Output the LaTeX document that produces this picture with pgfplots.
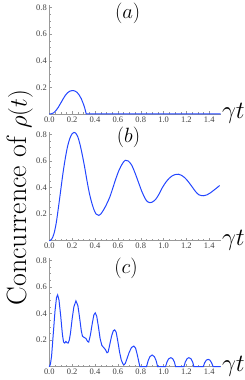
\documentclass[border=0pt]{standalone}
\usepackage{pgfplots}
\pgfplotsset{compat=1.18}
\usepackage{fontspec}
\newfontfamily\tickfont{Liberation Serif}
\definecolor{curve}{RGB}{35,70,255}
\pgfplotsset{
  panel/.style={
    scale only axis, width=171.4bp, height=109bp,
    xmin=0, xmax=1.5, ymin=0, ymax=0.82,
    axis lines=left, axis line style={-, black!40, line width=0.5bp},
    clip=false,
    xtick={0,0.2,...,1.41}, ytick={0.2,0.4,0.6,0.8},
    minor tick num=3,
    tick align=inside,
    major tick length=3bp, minor tick length=1.5bp,
    every tick/.style={black!40, line width=0.4bp},
    /pgf/number format/assume math mode=true,
    /pgf/number format/fixed,
    /pgf/number format/fixed zerofill,
    /pgf/number format/precision=1,
    tick label style={font=\tickfont\fontsize{8.5}{9}\selectfont, text=black!75},
    xticklabel style={yshift=1bp},
    yticklabel style={xshift=1bp},
  }
}
\begin{document}
\begin{tikzpicture}
\useasboundingbox (0,0) rectangle (245bp,380bp);
% (a)
\begin{axis}[panel, at={(49.3bp,266bp)}, anchor=south west]
\addplot[curve, line width=1bp] coordinates {
(0,0) (0.02,0.002) (0.04,0.01) (0.06,0.028) (0.08,0.052) (0.10,0.082) (0.12,0.112) (0.14,0.140) (0.16,0.160) (0.18,0.172) (0.20,0.176) (0.21,0.176) (0.22,0.174) (0.24,0.165) (0.26,0.145) (0.28,0.115) (0.30,0.072) (0.31,0.045) (0.32,0.012) (0.323,0) (0.4,0) (0.6,0) (0.8,0) (1.0,0) (1.2,0) (1.5,0)
};
\node at (axis cs:0.686,0.754) {\fontsize{21}{21}\selectfont $(a)$};
\node[anchor=base west, inner sep=0pt] at (axis cs:1.51,-0.035) {\fontsize{26}{26}\selectfont $\gamma t$};
\end{axis}
% (b)
\begin{axis}[panel, at={(49.3bp,139.3bp)}, anchor=south west]
\addplot[curve, line width=1bp, smooth, tension=0.5] coordinates {
(0,0) (0.02,0.01) (0.04,0.05) (0.06,0.13) (0.08,0.25) (0.10,0.38) (0.12,0.51) (0.14,0.62) (0.16,0.71) (0.18,0.77) (0.20,0.805) (0.216,0.815) (0.23,0.81) (0.25,0.78) (0.27,0.72) (0.29,0.64) (0.31,0.55) (0.33,0.45) (0.35,0.36) (0.37,0.29) (0.39,0.235) (0.41,0.20) (0.433,0.19) (0.45,0.20) (0.47,0.225) (0.49,0.255) (0.51,0.29) (0.53,0.33) (0.55,0.38) (0.58,0.46) (0.61,0.53) (0.64,0.58) (0.665,0.605) (0.69,0.60) (0.72,0.57) (0.75,0.51) (0.78,0.44) (0.81,0.37) (0.84,0.315) (0.86,0.293) (0.88,0.286) (0.90,0.29) (0.93,0.31) (0.96,0.35) (0.99,0.40) (1.02,0.44) (1.05,0.47) (1.08,0.49) (1.11,0.499) (1.13,0.5) (1.16,0.49) (1.19,0.47) (1.22,0.44) (1.25,0.405) (1.28,0.37) (1.31,0.345) (1.35,0.338) (1.38,0.345) (1.41,0.36) (1.44,0.38) (1.47,0.40) (1.49,0.415)
};
\node at (axis cs:0.693,0.776) {\fontsize{21}{21}\selectfont $(b)$};
\node[anchor=base west, inner sep=0pt] at (axis cs:1.51,-0.035) {\fontsize{26}{26}\selectfont $\gamma t$};
\end{axis}
% (c)
\begin{axis}[panel, at={(49.3bp,13.3bp)}, anchor=south west]
\addplot[curve, line width=1bp] coordinates {
(0,0) (0.01,0.02) (0.02,0.08) (0.035,0.25) (0.05,0.42) (0.063,0.52) (0.073,0.54) (0.085,0.50) (0.10,0.38) (0.115,0.24) (0.125,0.185) (0.135,0.178) (0.145,0.19) (0.155,0.18) (0.165,0.178) (0.175,0.20) (0.185,0.25) (0.20,0.36) (0.215,0.45) (0.233,0.495) (0.25,0.46) (0.265,0.37) (0.28,0.27) (0.29,0.23) (0.305,0.22) (0.32,0.213) (0.335,0.19) (0.345,0.185) (0.36,0.24) (0.375,0.32) (0.39,0.39) (0.402,0.405) (0.415,0.38) (0.43,0.30) (0.445,0.21) (0.46,0.16) (0.475,0.145) (0.49,0.13) (0.505,0.105) (0.515,0.11) (0.53,0.17) (0.545,0.23) (0.56,0.27) (0.572,0.277) (0.585,0.26) (0.60,0.19) (0.615,0.11) (0.63,0.05) (0.645,0.02) (0.655,0.015) (0.665,0.025) (0.68,0.06) (0.70,0.11) (0.72,0.145) (0.74,0.155) (0.755,0.14) (0.77,0.09) (0.785,0.03) (0.793,0) (0.851,0) (0.865,0.045) (0.88,0.075) (0.90,0.088) (0.92,0.075) (0.935,0.045) (0.948,0) (1.017,0) (1.03,0.035) (1.045,0.06) (1.064,0.068) (1.08,0.06) (1.095,0.035) (1.105,0) (1.178,0) (1.19,0.035) (1.205,0.06) (1.222,0.068) (1.24,0.06) (1.255,0.035) (1.265,0) (1.347,0) (1.36,0.03) (1.375,0.05) (1.39,0.055) (1.405,0.05) (1.42,0.03) (1.434,0) (1.5,0)
};
\node at (axis cs:0.671,0.742) {\fontsize{21}{21}\selectfont $(c)$};
\node[anchor=base west, inner sep=0pt] at (axis cs:1.51,-0.035) {\fontsize{26}{26}\selectfont $\gamma t$};
\end{axis}
\node[rotate=90, anchor=base, inner sep=0pt] at (26.5bp,182.5bp) {\fontsize{28}{28}\selectfont Concurrence of $\rho(t)$};
\end{tikzpicture}
\end{document}
